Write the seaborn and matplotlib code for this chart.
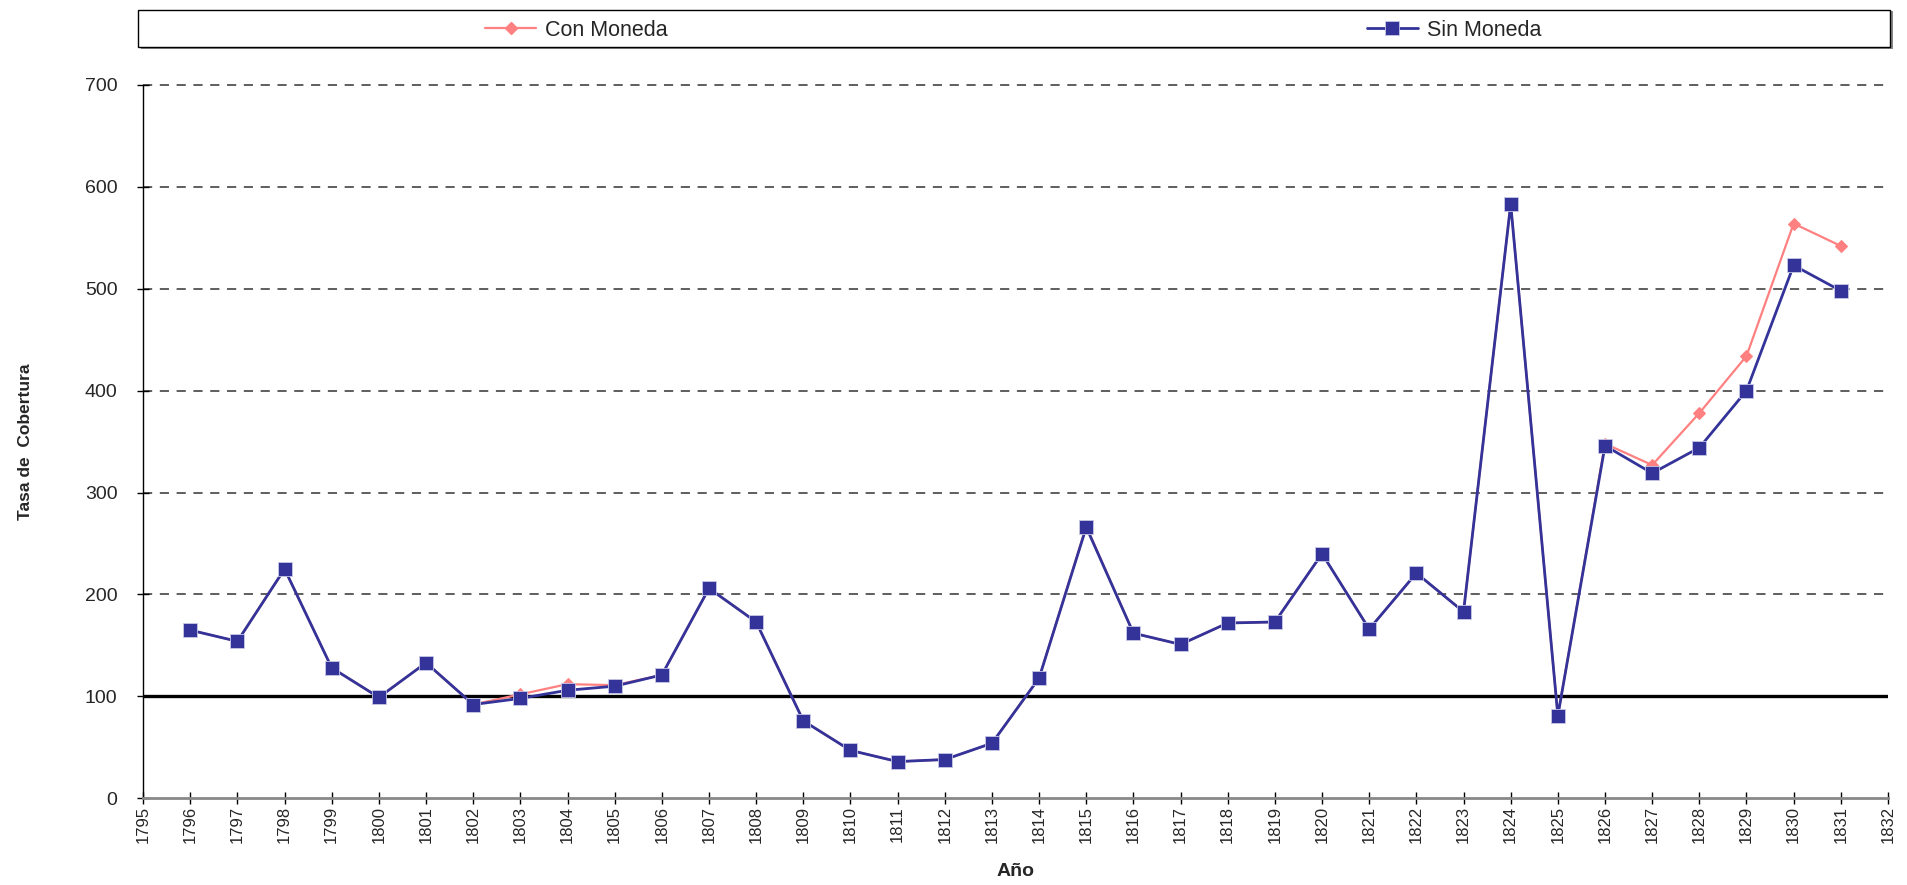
"""
Tasa de cobertura por año, con y sin moneda (1796-1831).
"""

import matplotlib.pyplot as plt
import matplotlib.patches as mpatches
import pandas as pd
import seaborn as sns

# Datos
anios = list(range(1796, 1832))
sin_moneda = [165, 154, 225, 128, 99, 133, 92, 98, 106, 110,
              121, 206, 173, 76, 47, 36, 38, 54, 118, 266,
              162, 151, 172, 173, 240, 166, 221, 183, 583, 81,
              346, 319, 344, 400, 523, 498]
con_moneda = [165, 154, 225, 128, 99, 133, 92, 102, 112, 111,
              121, 206, 173, 76, 47, 36, 38, 54, 118, 267,
              162, 151, 172, 173, 240, 166, 221, 183, 583, 81,
              348, 327, 378, 434, 564, 542]
ticks_y = [0, 100, 200, 300, 400, 500, 600, 700]
ticks_x = list(range(1795, 1833))

df = pd.DataFrame({"Año": anios, "Con Moneda": con_moneda, "Sin Moneda": sin_moneda})

sns.set_style("ticks")
plt.rcParams['font.family'] = ['Liberation Sans', 'DejaVu Sans']

rosa = "#FF8080"
azul = "#333399"

fig = plt.figure(figsize=(19.08, 8.85), dpi=100)
ax = fig.add_axes([0.075, 0.098, 0.9145, 0.806])

# Líneas de referencia
for v in ticks_y[1:]:
    if v != 100:
        ax.axhline(v, color="#333333", lw=1.1, ls=(0, (6, 5)), zorder=0, clip_on=False)
ax.axhline(100, color="black", lw=2.4, zorder=1)

# Series
sns.lineplot(data=df, x="Año", y="Con Moneda", color=rosa, lw=1.6,
             marker="D", markersize=6.5, markeredgecolor=rosa, ax=ax, zorder=3)
sns.lineplot(data=df, x="Año", y="Sin Moneda", color=azul, lw=2.0,
             marker="s", markersize=10.5, markeredgecolor="#C8C8E8",
             markeredgewidth=0.6, ax=ax, zorder=4)

ax.set_xlim(1795, 1832)
ax.set_ylim(0, 700)
ax.set_xticks(ticks_x)
ax.set_xticklabels([str(t) for t in ticks_x], rotation=90, fontsize=12)
ax.set_yticks(ticks_y)
ax.set_yticklabels([str(t) for t in ticks_y], fontsize=14)
ax.tick_params(axis="both", direction="inout", length=9, width=1, color="black")
ax.tick_params(axis="y", pad=14)
ax.tick_params(axis="x", pad=1)

ax.spines["top"].set_visible(False)
ax.spines["right"].set_visible(False)
ax.spines["left"].set_color("black")
ax.spines["left"].set_linewidth(1)
ax.spines["bottom"].set_color("#888888")
ax.spines["bottom"].set_linewidth(2)

ax.set_xlabel("Año", fontsize=14, fontweight="bold", labelpad=14)
ax.set_ylabel("Tasa de  Cobertura", fontsize=12.5, fontweight="bold", labelpad=37)

# Caja de la leyenda
fig.add_artist(mpatches.Rectangle((141 / 1908, 1 - 49 / 885), 1752 / 1908, 38 / 885,
                                  transform=fig.transFigure, facecolor="#888888",
                                  edgecolor="none", zorder=0))
fig.add_artist(mpatches.Rectangle((138 / 1908, 1 - 47 / 885), 1752 / 1908, 37 / 885,
                                  transform=fig.transFigure, facecolor="white",
                                  edgecolor="black", lw=1, zorder=1))

h_con = plt.Line2D([], [], color=rosa, lw=1.6, marker="D", markersize=6.5)
h_sin = plt.Line2D([], [], color=azul, lw=2.0, marker="s", markersize=10,
                   markeredgecolor="#C8C8E8", markeredgewidth=0.6)
for h, etiqueta, cx in [(h_con, "Con Moneda", 0.302), (h_sin, "Sin Moneda", 0.762)]:
    fig.legend([h], [etiqueta], loc="center", bbox_to_anchor=(cx, 1 - 30 / 885),
               frameon=False, fontsize=15.5, handlelength=2.4, handletextpad=0.4)

plt.savefig("out.png", dpi=100)
